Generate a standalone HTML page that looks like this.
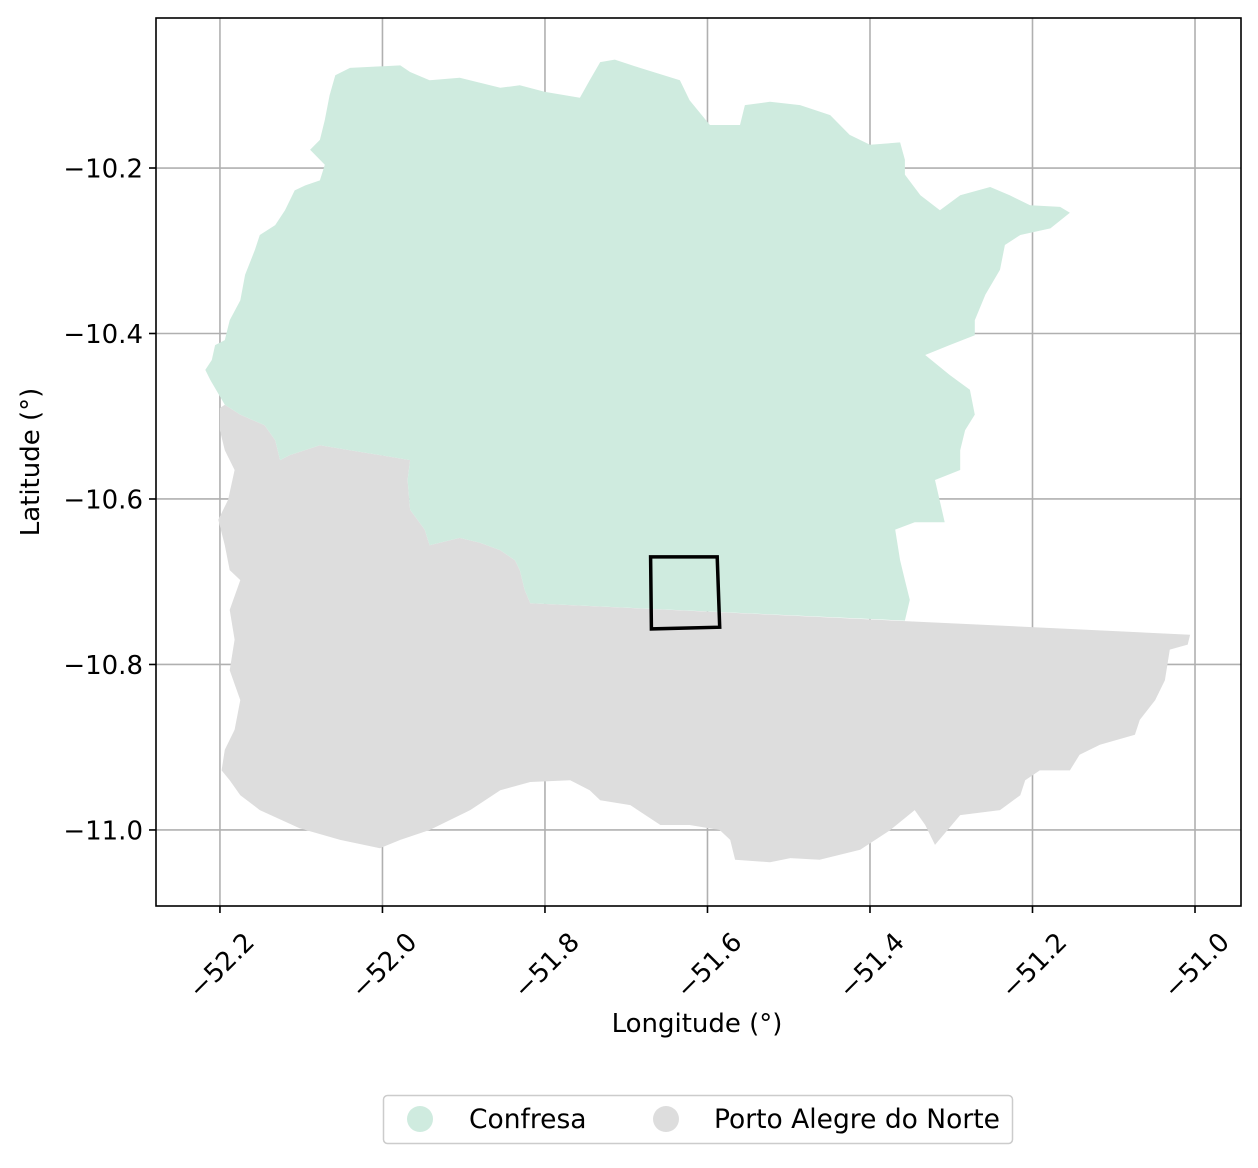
<!DOCTYPE html>
<html><head><meta charset="utf-8"><style>
html,body{margin:0;padding:0;background:#fff}
svg text{font-family:"DejaVu Sans","Liberation Sans",sans-serif;fill:#000}
</style></head><body>
<svg id="chart" width="1258" height="1163" viewBox="0 0 1258 1163" xmlns="http://www.w3.org/2000/svg">
<rect width="1258" height="1163" fill="#fff"/>
<g id="grid"></g>
<g id="regions"></g>
<g id="axes"></g>
<text x="697" y="1032" font-size="26" text-anchor="middle">Longitude (°)</text>
<text transform="translate(39,462) rotate(-90)" font-size="26" text-anchor="middle">Latitude (°)</text>
<g>
<rect x="383.5" y="1095.5" width="629" height="48" rx="4" fill="#fff" stroke="#ccc" stroke-width="1.5"/>
<g><circle cx="420" cy="1119" r="13" fill="#cfebdf"/><text x="469" y="1128" font-size="26.5">Confresa</text></g>
<g><circle cx="666" cy="1119" r="13" fill="#dddddd"/><text x="714" y="1128" font-size="26.5">Porto Alegre do Norte</text></g>
</g>
</svg>
<script>
const xTicks=[-52.2,-52.0,-51.8,-51.6,-51.4,-51.2,-51.0];
const yTicks=[-10.2,-10.4,-10.6,-10.8,-11.0];
const confresaLon=[-52.065,-52.058,-52.040,-51.978,-51.966,-51.942,-51.905,-51.855,-51.831,-51.800,-51.757,-51.745,-51.732,-51.714,-51.683,-51.634,-51.622,-51.597,-51.560,-51.554,-51.523,-51.486,-51.449,-51.425,-51.400,-51.363,-51.357,-51.357,-51.338,-51.314,-51.289,-51.252,-51.228,-51.203,-51.166,-51.154,-51.178,-51.215,-51.234,-51.240,-51.258,-51.271,-51.271,-51.302,-51.332,-51.302,-51.277,-51.271,-51.283,-51.289,-51.289,-51.320,-51.308,-51.345,-51.369,-51.363,-51.357,-51.351,-51.357];
const confresaLat=[-10.112,-10.088,-10.079,-10.076,-10.084,-10.094,-10.091,-10.103,-10.100,-10.108,-10.115,-10.094,-10.072,-10.069,-10.079,-10.094,-10.118,-10.148,-10.148,-10.124,-10.120,-10.124,-10.136,-10.160,-10.172,-10.169,-10.190,-10.208,-10.233,-10.251,-10.233,-10.223,-10.233,-10.245,-10.247,-10.254,-10.273,-10.281,-10.293,-10.323,-10.353,-10.384,-10.402,-10.414,-10.426,-10.450,-10.468,-10.498,-10.517,-10.541,-10.565,-10.577,-10.628,-10.628,-10.637,-10.674,-10.698,-10.722,-10.747];
const borderLon=[-51.818,-51.825,-51.831,-51.837,-51.855,-51.880,-51.905,-51.942,-51.948,-51.966,-51.969,-51.966,-52.003,-52.040,-52.077,-52.114,-52.126,-52.132,-52.145,-52.175,-52.194];
const borderLat=[-10.726,-10.710,-10.686,-10.674,-10.662,-10.653,-10.647,-10.656,-10.637,-10.613,-10.577,-10.553,-10.547,-10.541,-10.535,-10.547,-10.553,-10.529,-10.511,-10.498,-10.486];
const confresaWestLon=[-52.212,-52.218,-52.210,-52.206,-52.194,-52.188,-52.175,-52.169,-52.157,-52.151,-52.132,-52.120,-52.108,-52.095,-52.077,-52.071,-52.089,-52.077,-52.071];
const confresaWestLat=[-10.456,-10.444,-10.432,-10.414,-10.408,-10.384,-10.360,-10.329,-10.299,-10.281,-10.269,-10.251,-10.227,-10.221,-10.215,-10.196,-10.178,-10.166,-10.142];
const portoLon=[-51.006,-51.009,-51.031,-51.037,-51.049,-51.068,-51.074,-51.117,-51.142,-51.154,-51.191,-51.209,-51.215,-51.240,-51.289,-51.320,-51.332,-51.345,-51.375,-51.412,-51.462,-51.498,-51.523,-51.566,-51.572,-51.585,-51.622,-51.658,-51.695,-51.732,-51.745,-51.769,-51.818,-51.855,-51.892,-51.942,-51.978,-52.003,-52.052,-52.102,-52.151,-52.175,-52.188,-52.198,-52.194,-52.182,-52.175,-52.188,-52.182,-52.188,-52.175,-52.188,-52.194,-52.202,-52.190,-52.182,-52.194,-52.200,-52.200];
const portoLat=[-10.764,-10.776,-10.782,-10.819,-10.843,-10.867,-10.885,-10.897,-10.909,-10.928,-10.928,-10.940,-10.958,-10.976,-10.982,-11.018,-10.994,-10.976,-11.000,-11.024,-11.036,-11.034,-11.039,-11.036,-11.012,-11.000,-10.994,-10.994,-10.970,-10.964,-10.952,-10.940,-10.942,-10.952,-10.976,-11.000,-11.012,-11.022,-11.012,-10.998,-10.976,-10.958,-10.940,-10.928,-10.903,-10.879,-10.843,-10.807,-10.770,-10.734,-10.698,-10.686,-10.656,-10.625,-10.601,-10.565,-10.541,-10.517,-10.490];
const boxLon=[-51.670,-51.588,-51.585,-51.669];
const boxLat=[-10.670,-10.670,-10.755,-10.757];

const L=156,R=1241,T=18,B=906;
const lonMin=-52.2787,lonMax=-50.9434,latMax=-10.0187,latMin=-11.0919;
const sx=v=>L+(v-lonMin)/(lonMax-lonMin)*(R-L);
const sy=v=>T+(latMax-v)/(latMax-latMin)*(B-T);
const NS='http://www.w3.org/2000/svg';
function mk(tag,attrs,parent){const e=document.createElementNS(NS,tag);for(const k in attrs)e.setAttribute(k,attrs[k]);parent.appendChild(e);return e;}
const grid=document.getElementById('grid'),regions=document.getElementById('regions'),axes=document.getElementById('axes');
xTicks.forEach(t=>{const l=mk('line',{x1:sx(t),x2:sx(t),y1:T,y2:B,stroke:'#b0b0b0','stroke-width':1.6},grid);

});
yTicks.forEach(t=>{const l=mk('line',{x1:L,x2:R,y1:sy(t),y2:sy(t),stroke:'#b0b0b0','stroke-width':1.6},grid);

});
function pts(lons,lats){return lons.map((v,i)=>sx(v).toFixed(1)+','+sy(lats[i]).toFixed(1));}
const brdRev=pts(borderLon,borderLat);
const cPts=pts(confresaLon,confresaLat).concat(brdRev,pts(confresaWestLon,confresaWestLat));
const pPts=pts(portoLon,portoLat).concat(brdRev.slice().reverse());
const pg=mk('polygon',{points:pPts.join(' '),fill:'#dddddd'},regions);


const cg=mk('polygon',{points:cPts.join(' '),fill:'#cfebdf'},regions);


const bx=mk('polygon',{points:pts(boxLon,boxLat).join(' '),fill:'none',stroke:'#000','stroke-width':3.5,'stroke-linejoin':'miter'},regions);


const fr=mk('rect',{x:L,y:T,width:R-L,height:B-T,fill:'none',stroke:'#000','stroke-width':1.6},axes);


xTicks.forEach(t=>{const x=sx(t);
const tk=mk('line',{x1:x,x2:x,y1:B,y2:B+7,stroke:'#000','stroke-width':1.6},axes);


const tx=mk('text',{x:0,y:0,'font-size':26,'text-anchor':'middle','dominant-baseline':'central',transform:`translate(${x+2},${B+60}) rotate(-45)`},axes);
tx.textContent='\u2212'+Math.abs(t).toFixed(1);

});
yTicks.forEach(t=>{const y=sy(t);
const tk=mk('line',{x1:L-7,x2:L,y1:y,y2:y,stroke:'#000','stroke-width':1.6},axes);


const tx=mk('text',{x:L-13,y:y+9.5,'font-size':26,'text-anchor':'end'},axes);
tx.textContent='\u2212'+Math.abs(t).toFixed(1);

});
</script>
</body></html>
